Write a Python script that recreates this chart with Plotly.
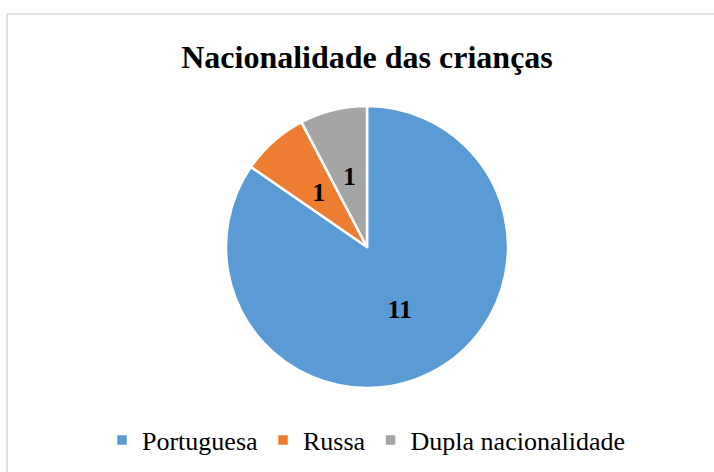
import plotly.graph_objects as go

labels = ["Portuguesa", "Russa", "Dupla nacionalidade"]
values = [11, 1, 1]
colors = ["#5B9BD5", "#ED7D31", "#A5A5A5"]
title_text = "Nacionalidade das crianças"

W, H = 714, 472
cx, cy, r = 367, 247, 141
r2 = 90  # inner text ring for the small slices


def dom(rad):
    return dict(x=[(cx - rad) / W, (cx + rad) / W],
                y=[(H - cy - rad) / H, (H - cy + rad) / H])


label_font = dict(family="Liberation Serif", size=26, color="black", weight="bold")

fig = go.Figure()
fig.add_trace(go.Pie(
    labels=labels,
    values=values,
    marker=dict(colors=colors, line=dict(color="white", width=2.5)),
    sort=False,
    direction="clockwise",
    rotation=0,
    texttemplate=["%{value}", "", ""],
    textposition="inside",
    insidetextorientation="horizontal",
    textfont=label_font,
    hoverinfo="label+value",
    domain=dom(r),
))
# transparent overlay used only to place the labels of the small slices nearer the centre
fig.add_trace(go.Pie(
    labels=labels,
    values=values,
    marker=dict(colors=["rgba(0,0,0,0)"] * 3, line=dict(width=0)),
    sort=False,
    direction="clockwise",
    rotation=0,
    texttemplate=["", "%{value}", "%{value}"],
    textposition="inside",
    insidetextorientation="horizontal",
    textfont=label_font,
    hoverinfo="skip",
    showlegend=False,
    domain=dom(r2),
))

fig.update_layout(
    width=W, height=H,
    margin=dict(l=0, r=0, t=0, b=0),
    paper_bgcolor="white",
    plot_bgcolor="white",
    title=dict(text="<b>" + title_text + "</b>", x=cx / W, xanchor="center",
               y=1 - 57 / H, yanchor="middle",
               font=dict(family="Liberation Serif", size=32, color="black")),
    showlegend=True,
    legend=dict(orientation="h", x=366 / W, xanchor="center", y=1 - 440 / H, yanchor="middle",
                font=dict(family="Liberation Serif", size=26, color="black"),
                traceorder="normal"),
    shapes=[dict(type="rect", xref="paper", yref="paper",
                 x0=7 / W, x1=1.1, y0=-0.1, y1=1 - 14 / H,
                 line=dict(color="#D9D9D9", width=1.5), fillcolor="rgba(0,0,0,0)")],
)

fig.write_html("out.html", config={"displayModeBar": False},
               post_script="document.body.style.margin='0';")
